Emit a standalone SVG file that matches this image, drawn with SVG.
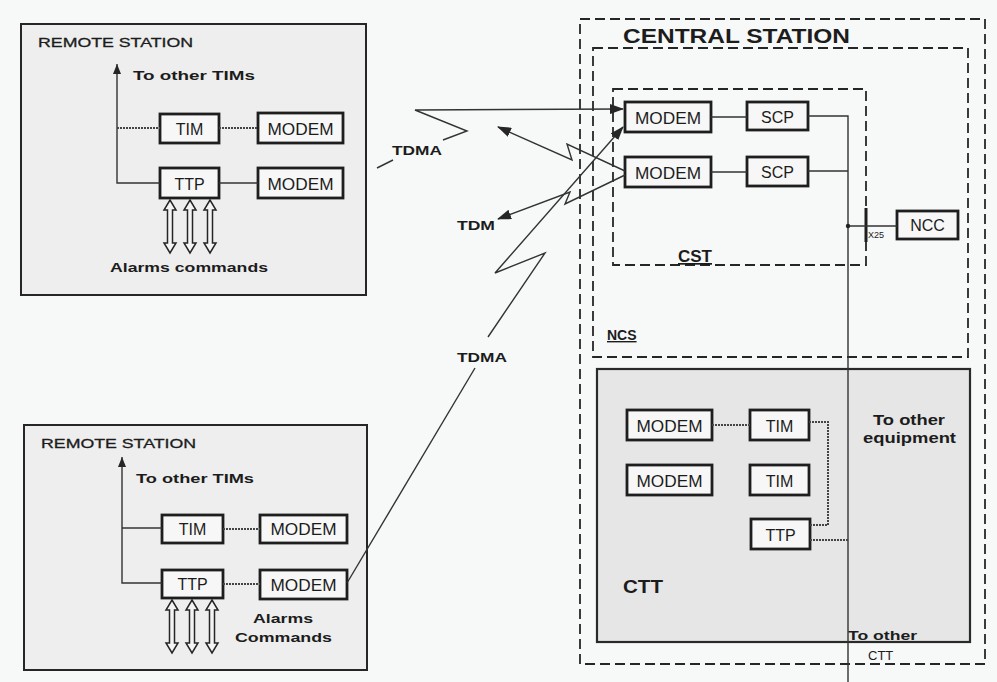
<svg xmlns="http://www.w3.org/2000/svg" width="997" height="682" viewBox="0 0 997 682">
<style>
text{font-family:"Liberation Sans","DejaVu Sans",Arial,sans-serif;fill:#1c1c1c}
.lbl{font-size:16px;text-anchor:middle}
.b{font-weight:bold}
.box{fill:#f7f7f7;stroke:#1e1e1e;stroke-width:2.8}
.area{fill:#eeeeee;stroke:#262626;stroke-width:2}
.ctt{fill:#e6e6e6;stroke:#2a2a2a;stroke-width:2.2}
.dash{fill:none;stroke:#262626;stroke-width:1.8;stroke-dasharray:10 5}
.ln{fill:none;stroke:#333;stroke-width:1.4}
.dot{fill:none;stroke:#444;stroke-width:2;stroke-dasharray:2 1}
.dbl{fill:#f4f4f4;stroke:#262626;stroke-width:1.5}
.st{font-size:13.5px;stroke:#1c1c1c;stroke-width:0.3}
</style>
<defs>
<marker id="ah" markerUnits="userSpaceOnUse" markerWidth="14" markerHeight="10" refX="13" refY="5" orient="auto"><path d="M0,0 L14,5 L0,10 Z" fill="#262626"/></marker>
<marker id="ahs" markerUnits="userSpaceOnUse" markerWidth="10" markerHeight="8" refX="10" refY="4" orient="auto"><path d="M0,0 L10,4 L0,8 Z" fill="#262626"/></marker>
<path id="darrow" d="M0,0 L6,10 L2.5,10 L2.5,43 L6,43 L0,53 L-6,43 L-2.5,43 L-2.5,10 L-6,10 Z"/>
</defs>
<rect width="997" height="682" fill="#f7f8f8"/>

<!-- Top remote station -->
<g id="remote1">
<rect class="area" x="21" y="24" width="345" height="271"/>
<text x="38" y="47" class="st" textLength="155" lengthAdjust="spacingAndGlyphs">REMOTE STATION</text>
<text x="133" y="80" font-size="12.5" class="b" textLength="122" lengthAdjust="spacingAndGlyphs">To other TIMs</text>
<text x="110" y="272" font-size="13" class="b" textLength="158" lengthAdjust="spacingAndGlyphs">Alarms commands</text>
<use href="#darrow" x="170" y="200" class="dbl"/>
<use href="#darrow" x="190" y="200" class="dbl"/>
<use href="#darrow" x="210" y="200" class="dbl"/>
</g>
<g id="r1-tim"><rect class="box" x="160" y="114" width="59" height="29"/><text class="lbl" x="189.5" y="134.5">TIM</text></g>
<g id="r1-modem1"><rect class="box" x="258" y="113" width="85" height="30"/><text class="lbl" x="300.5" y="134.5" textLength="66" lengthAdjust="spacingAndGlyphs">MODEM</text></g>
<g id="r1-ttp"><rect class="box" x="160" y="168" width="59" height="30"/><text class="lbl" x="189.5" y="189.5">TTP</text></g>
<g id="r1-modem2"><rect class="box" x="258" y="168" width="85" height="30"/><text class="lbl" x="300.5" y="189.5" textLength="66" lengthAdjust="spacingAndGlyphs">MODEM</text></g>

<!-- Bottom remote station -->
<g id="remote2">
<rect class="area" x="24" y="425" width="343" height="245"/>
<text x="41" y="448" class="st" textLength="155" lengthAdjust="spacingAndGlyphs">REMOTE STATION</text>
<text x="136" y="483" font-size="12.5" class="b" textLength="118" lengthAdjust="spacingAndGlyphs">To other TIMs</text>
<text x="253" y="623" font-size="13" class="b" textLength="60" lengthAdjust="spacingAndGlyphs">Alarms</text>
<text x="235" y="642" font-size="13" class="b" textLength="97" lengthAdjust="spacingAndGlyphs">Commands</text>
<use href="#darrow" x="172" y="600" class="dbl"/>
<use href="#darrow" x="192" y="600" class="dbl"/>
<use href="#darrow" x="212" y="600" class="dbl"/>
</g>
<g id="r2-tim"><rect class="box" x="162" y="515" width="61" height="28"/><text class="lbl" x="192.5" y="535">TIM</text></g>
<g id="r2-modem1"><rect class="box" x="260" y="515" width="87" height="28"/><text class="lbl" x="303.5" y="535" textLength="66" lengthAdjust="spacingAndGlyphs">MODEM</text></g>
<g id="r2-ttp"><rect class="box" x="162" y="570" width="61" height="28"/><text class="lbl" x="192.5" y="590">TTP</text></g>
<g id="r2-modem2"><rect class="box" x="260" y="570" width="87" height="29"/><text class="lbl" x="303.5" y="590.5" textLength="66" lengthAdjust="spacingAndGlyphs">MODEM</text></g>

<!-- Central station -->
<g id="central">
<rect class="dash" x="580" y="19" width="405" height="645"/>
<text x="623" y="43" font-size="20" class="b" textLength="227" lengthAdjust="spacingAndGlyphs">CENTRAL STATION</text>
</g>
<g id="ncs">
<rect class="dash" x="593" y="48" width="375" height="309"/>
<text x="607" y="340" font-size="14" class="b" text-decoration="underline">NCS</text>
</g>
<g id="cst">
<rect class="dash" x="613" y="89" width="253" height="176"/>
<text x="678" y="262" font-size="17" class="b" text-decoration="underline">CST</text>
<line x1="866" y1="208" x2="866" y2="242" stroke="#1e1e1e" stroke-width="3"/>
<text x="868" y="238" font-size="9">X25</text>
</g>
<g id="cst-modem1"><rect class="box" x="625" y="102" width="86" height="30"/><text class="lbl" x="668" y="123.5" textLength="66" lengthAdjust="spacingAndGlyphs">MODEM</text></g>
<g id="cst-scp1"><rect class="box" x="747" y="102" width="61" height="28"/><text class="lbl" x="777.5" y="122.5">SCP</text></g>
<g id="cst-modem2"><rect class="box" x="625" y="157" width="86" height="30"/><text class="lbl" x="668" y="178.5" textLength="66" lengthAdjust="spacingAndGlyphs">MODEM</text></g>
<g id="cst-scp2"><rect class="box" x="747" y="157" width="61" height="29"/><text class="lbl" x="777.5" y="177.5">SCP</text></g>
<g id="ncc"><rect class="box" x="897" y="211" width="61" height="28" stroke-width="3.4"/><text class="lbl" x="927.5" y="231">NCC</text></g>

<g id="ctt">
<rect class="ctt" x="597" y="369" width="373" height="273"/>
<text x="623" y="593" font-size="18" class="b" textLength="40" lengthAdjust="spacingAndGlyphs">CTT</text>
<text x="873" y="425" font-size="14" class="b" textLength="72" lengthAdjust="spacingAndGlyphs">To other</text>
<text x="863" y="443" font-size="14" class="b" textLength="93" lengthAdjust="spacingAndGlyphs">equipment</text>
</g>
<g id="ctt-modem1"><rect class="box" x="627" y="410" width="85" height="30"/><text class="lbl" x="669.5" y="431.5" textLength="66" lengthAdjust="spacingAndGlyphs">MODEM</text></g>
<g id="ctt-tim1"><rect class="box" x="750" y="410" width="59" height="30"/><text class="lbl" x="779.5" y="431.5">TIM</text></g>
<g id="ctt-modem2"><rect class="box" x="627" y="465" width="85" height="30"/><text class="lbl" x="669.5" y="486.5" textLength="66" lengthAdjust="spacingAndGlyphs">MODEM</text></g>
<g id="ctt-tim2"><rect class="box" x="750" y="465" width="59" height="30"/><text class="lbl" x="779.5" y="486.5">TIM</text></g>
<g id="ctt-ttp"><rect class="box" x="751" y="519" width="59" height="30"/><text class="lbl" x="780.5" y="540.5">TTP</text></g>
<g id="other-ctt">
<text x="848" y="640" font-size="13" class="b" textLength="69" lengthAdjust="spacingAndGlyphs">To other</text>
<text x="868" y="660" font-size="13">CTT</text>
</g>

<!-- Connectors -->
<g id="connectors">
<path class="ln" d="M160,183 H117 V64" marker-end="url(#ahs)"/>
<path class="dot" d="M117,128 H160"/>
<path class="dot" d="M219,128 H258"/>
<path class="ln" d="M219,183 H258" stroke-width="1.8"/>
<path class="ln" d="M162,583 H122 V457" marker-end="url(#ahs)"/>
<path class="ln" d="M122,528 H162"/>
<path class="dot" d="M223,529 H260"/>
<path class="dot" d="M223,584 H260"/>
<path class="ln" d="M377,168 L393,160"/>
<path class="ln" d="M443,140 L467,131 L415,110 L623,109" marker-end="url(#ah)"/>
<text x="392" y="155" font-size="13" class="b" textLength="50" lengthAdjust="spacingAndGlyphs">TDMA</text>
<path class="ln" d="M347,583 L475,368"/>
<path class="ln" d="M488,337 L545,253 L495,273 L623,127" marker-end="url(#ah)"/>
<text x="457" y="362" font-size="13" class="b" textLength="50" lengthAdjust="spacingAndGlyphs">TDMA</text>
<path class="ln" d="M625,171 L567,144 L572,160 L498,127" marker-end="url(#ah)"/>
<path class="ln" d="M625,175 L565,204 L570,192 L498,219" marker-end="url(#ah)"/>
<text x="457" y="230" font-size="13" class="b" textLength="38" lengthAdjust="spacingAndGlyphs">TDM</text>
<path class="ln" d="M711,117 H747"/>
<path class="ln" d="M711,172 H747"/>
<path class="ln" d="M808,116 H848 V682" stroke-width="1.6"/>
<path class="ln" d="M808,171 H848"/>
<path class="ln" d="M848,226 H897"/>
<circle cx="848" cy="226" r="2.2" fill="#222"/>
<path class="dot" d="M712,425 H750"/>
<path class="dot" d="M809,422 H828 V525 H810"/>
<path class="dot" d="M810,540 H848"/>
</g>
</svg>
